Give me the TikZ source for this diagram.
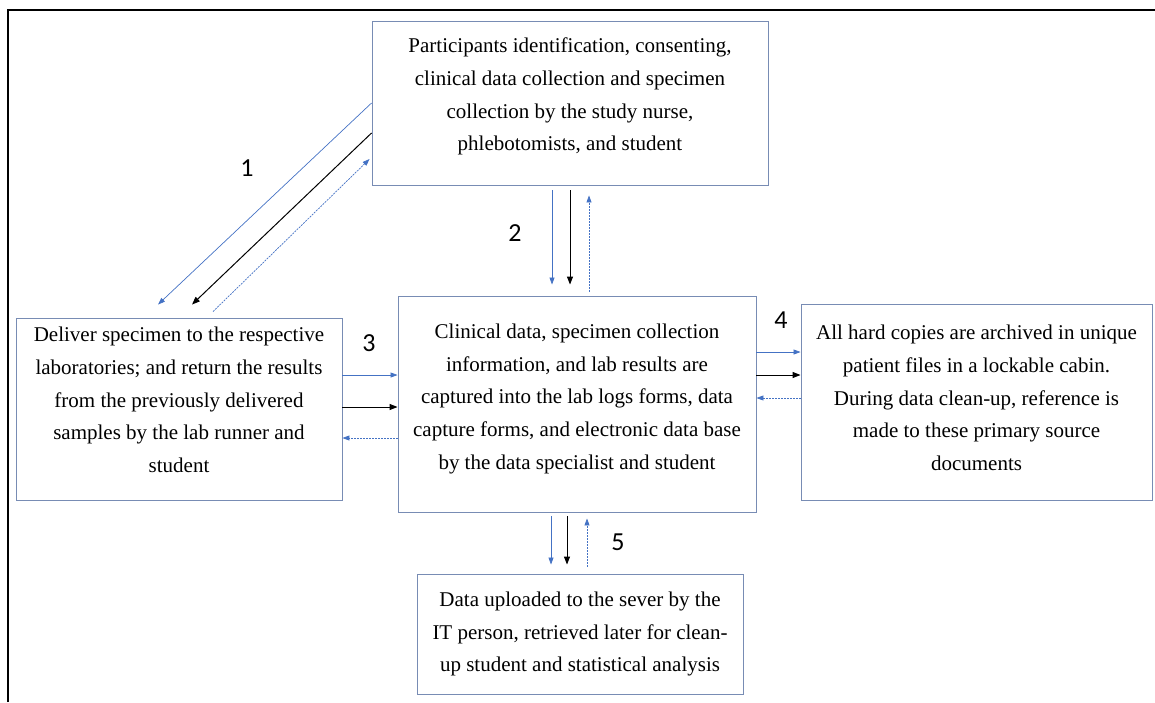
\documentclass[tikz,border=0pt]{standalone}
\usepackage{fontspec}
\setmainfont{Liberation Serif}
\newfontfamily\numfont{Carlito}
\usetikzlibrary{arrows.meta}
\definecolor{boxline}{RGB}{120,140,180}
\definecolor{arrowblue}{RGB}{68,114,196}

\begin{document}
\begin{tikzpicture}[x=1pt,y=-1pt,
  box/.style={draw=boxline,line width=0.9pt,inner sep=0pt,align=center,
    font=\fontsize{21}{32.7}\selectfont},
  fwd/.style={draw=arrowblue,line width=0.7pt,-{Triangle[length=7pt,width=5pt,fill=arrowblue]}},
  back/.style={fwd,dash pattern=on 2pt off 1pt},
  blk/.style={line width=1pt,-{Triangle[length=8pt,width=6pt]}},
  num/.style={font=\numfont\fontsize{26}{26}\selectfont}]
\useasboundingbox (0,0) rectangle (1155,702);
\draw[line width=2pt] (8,702) -- (8,9.5) -- (1155,9.5);
% the five stages
\node[box,minimum width=396pt,minimum height=164pt,text depth=17pt] (top) at (570,103)
  {Participants identification, consenting,\\clinical data collection and specimen\\collection by the study nurse,\\phlebotomists, and student};
\node[box,minimum width=326pt,minimum height=182pt,text depth=18pt] (lab) at (179,409)
  {Deliver specimen to the respective\\laboratories; and return the results\\from the previously delivered\\samples by the lab runner and\\student};
\node[box,minimum width=358pt,minimum height=216pt,text depth=15pt] (cen) at (577,404)
  {Clinical data, specimen collection\\information, and lab results are\\captured into the lab logs forms, data\\capture forms, and electronic data base\\by the data specialist and student};
\node[box,minimum width=351pt,minimum height=196pt,text depth=8pt] (arch) at (976.5,402)
  {All hard copies are archived in unique\\patient files in a lockable cabin.\\During data clean-up, reference is\\made to these primary source\\documents};
\node[box,minimum width=326pt,minimum height=120pt] (srv) at (580,634)
  {Data uploaded to the sever by the\\IT person, retrieved later for clean-\\up student and statistical analysis};
% 1: top <-> lab
\draw[fwd] (top.west) -- ([xshift=-21pt,yshift=13pt]lab.north);
\draw[blk] ([yshift=-30pt]top.west) -- ([xshift=13pt,yshift=13pt]lab.north);
\draw[back] ([xshift=34pt,yshift=6pt]lab.north) -- ([xshift=-2pt,yshift=-56pt]top.west);
\node[num] (n1) at (247,168) {1};
% 2: top <-> cen
\draw[fwd,shorten <=5pt,shorten >=11pt] ([xshift=-18pt]top.south) -- ([xshift=-18pt]top.south |- cen.north);
\draw[blk,shorten <=5pt,shorten >=11pt] (top.south) -- (top.south |- cen.north);
\draw[back,shorten <=4pt,shorten >=10pt] ([xshift=19pt]top.south |- cen.north) -- ([xshift=19pt]top.south);
\node[num] (n2) at (515,233) {2};
% 3: lab <-> cen
\draw[fwd] ([yshift=34pt]lab.east) -- ([yshift=34pt]lab.east -| cen.west);
\draw[blk] ([yshift=2pt]lab.east) -- ([yshift=2pt]lab.east -| cen.west);
\draw[back] ([yshift=-29pt]lab.east -| cen.west) -- ([yshift=-29pt]lab.east);
\node[num] (n3) at (369,343) {3};
% 4: cen <-> arch
\draw[fwd] ([yshift=52pt]cen.east) -- ([yshift=52pt]cen.east -| arch.west);
\draw[blk] ([yshift=29pt]cen.east) -- ([yshift=29pt]cen.east -| arch.west);
\draw[back] ([yshift=6pt]cen.east -| arch.west) -- ([yshift=6pt]cen.east);
\node[num] (n4) at (781,320) {4};
% 5: cen <-> srv
\draw[fwd,shorten <=4pt,shorten >=9pt] ([xshift=-26pt]cen.south) -- ([xshift=-26pt]cen.south |- srv.north);
\draw[blk,shorten <=4pt,shorten >=9pt] ([xshift=-10pt]cen.south) -- ([xshift=-10pt]cen.south |- srv.north);
\draw[back,shorten <=7pt,shorten >=6pt] ([xshift=10pt]cen.south |- srv.north) -- ([xshift=10pt]cen.south);
\node[num] (n5) at (618,542) {5};
\end{tikzpicture}
\end{document}
